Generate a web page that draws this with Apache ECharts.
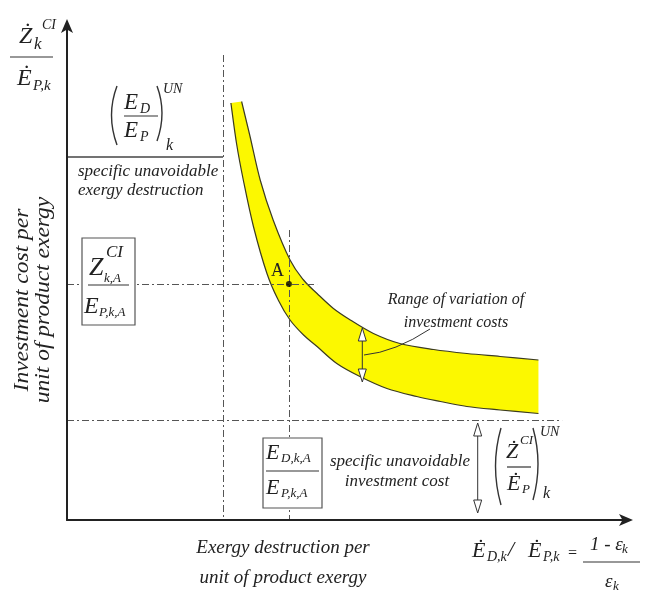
<!DOCTYPE html>
<html><head><meta charset="utf-8">
<script src="https://cdn.jsdelivr.net/npm/echarts@6/dist/echarts.min.js"></script>
<style>html,body{margin:0;padding:0;background:#fff}#c{width:645px;height:595px}</style>
</head><body><div id="c"></div>
<script>
// ---- data (axis units: 0..~100) ----
const upperX = [31.0, 32.5, 34.3, 36.6, 39.6, 42.0, 44.4, 47.3, 50.3, 54.4, 59.1, 65.1, 71.0, 76.9, 83.7];
const upperY = [83.7, 76.7, 68.0, 60.0, 52.0, 48.0, 45.3, 42.3, 40.0, 37.3, 35.3, 34.1, 33.3, 32.7, 32.0];
const lowerX = [29.1, 30.1, 31.3, 33.1, 35.5, 37.5, 39.6, 42.0, 44.4, 47.9, 52.0, 56.8, 62.1, 66.3, 71.0, 76.9, 83.7];
const lowerY = [83.4, 75.3, 68.0, 58.7, 49.3, 44.0, 40.0, 37.0, 34.7, 31.3, 28.7, 26.3, 24.7, 23.7, 22.7, 22.0, 21.3];
const pointA = [39.4, 47.2];
const unavoidableDestructionX = 27.7;
const unavoidableDestructionTop = 93;
const unavoidableDestructionLevel = 72.7;
const unavoidableCostY = 20;
const unavoidableCostEndX = 87.9;
const pointAHLineEnd = 44.4;
const pointAVLineTop = 58;

const chart = echarts.init(document.getElementById('c'), null, {renderer: 'canvas'});
const FONT = '"Liberation Serif", "DejaVu Serif", serif';
const INK = '#222';
const YELLOW = '#fcf800';
const EDGE = '#3b3b20';

function smoothPath(pts) { // Catmull-Rom through the given pixel points
  let d = '';
  for (let i = 0; i < pts.length - 1; i++) {
    const p0 = pts[i - 1] || pts[i], p1 = pts[i], p2 = pts[i + 1], p3 = pts[i + 2] || p2;
    const c1x = p1[0] + (p2[0] - p0[0]) / 6, c1y = p1[1] + (p2[1] - p0[1]) / 6;
    const c2x = p2[0] - (p3[0] - p1[0]) / 6, c2y = p2[1] - (p3[1] - p1[1]) / 6;
    d += ' C ' + c1x + ' ' + c1y + ' ' + c2x + ' ' + c2y + ' ' + p2[0] + ' ' + p2[1];
  }
  return d;
}
function renderBand(params, api) {
  const up = upperX.map((x, i) => api.coord([x, upperY[i]]));
  const lo = lowerX.map((x, i) => api.coord([x, lowerY[i]]));
  const loRev = lo.slice().reverse();
  const fill = 'M ' + up[0][0] + ' ' + up[0][1] + smoothPath(up) +
    ' L ' + loRev[0][0] + ' ' + loRev[0][1] + smoothPath(loRev) + ' Z';
  const upLine = 'M ' + up[0][0] + ' ' + up[0][1] + smoothPath(up);
  const loLine = 'M ' + lo[0][0] + ' ' + lo[0][1] + smoothPath(lo);
  return {type: 'group', children: [
    {type: 'path', shape: {pathData: fill}, style: {fill: YELLOW, stroke: null}},
    {type: 'path', shape: {pathData: upLine}, style: {fill: null, stroke: EDGE, lineWidth: 1.2}},
    {type: 'path', shape: {pathData: loLine}, style: {fill: null, stroke: EDGE, lineWidth: 1.2}}
  ]};
}

function tx(x, y, s, size, extra) {
  const el = {type: 'text', z: 100, x: x, y: y,
    style: {text: s, font: 'italic ' + size + 'px ' + FONT, fill: INK, align: 'left', verticalAlign: 'middle'}};
  if (extra) {
    if (extra.style) Object.assign(el.style, extra.style);
    for (const k in extra) if (k !== 'style') el[k] = extra[k];
  }
  return el;
}
function ln(x1, y1, x2, y2, w, c) {
  return {type: 'line', z: 100, shape: {x1, y1, x2, y2}, style: {stroke: c || '#333', lineWidth: w || 1.2}};
}
function paren(x1, y1, cx, cy, x2, y2) {
  return {type: 'bezierCurve', z: 100, shape: {x1, y1, x2, y2, cpx1: cx, cpy1: cy}, style: {stroke: '#333', lineWidth: 1.4, fill: 'none'}};
}
function head(x, yApex, dir) { // hollow arrowhead, dir 1 = points up, -1 = points down
  const l = 13 * dir;
  return {type: 'polygon', z: 101, shape: {points: [[x, yApex], [x - 4, yApex + l], [x + 4, yApex + l]]},
    style: {fill: '#fff', stroke: '#333', lineWidth: 1}};
}
function box(x, y, w, h) {
  return {type: 'rect', z: 99, shape: {x, y, width: w, height: h}, style: {fill: '#fff', stroke: '#555', lineWidth: 1.2}};
}

const dash = {type: [7, 3, 2, 3], color: '#555', width: 1};
const option = {
  animation: false,
  grid: {left: 67, right: 17, top: 25, bottom: 75},
  xAxis: {type: 'value', min: 0, max: 99.6, z: 10,
    axisLine: {show: true, symbol: ['none', 'arrow'], symbolSize: [9, 14], symbolOffset: [0, 5], lineStyle: {color: INK, width: 2}},
    axisTick: {show: false}, axisLabel: {show: false}, splitLine: {show: false}},
  yAxis: {type: 'value', min: 0, max: 99, z: 10,
    axisLine: {show: true, onZero: false, symbol: ['none', 'arrow'], symbolSize: [9, 14], symbolOffset: [0, 6], lineStyle: {color: INK, width: 2}},
    axisTick: {show: false}, axisLabel: {show: false}, splitLine: {show: false}},
  series: [
    {type: 'custom', name: 'band', coordinateSystem: 'cartesian2d', data: [[50, 50]], renderItem: renderBand, z: 2, silent: true},
    {type: 'scatter', name: 'A', data: [pointA], symbolSize: 6, itemStyle: {color: '#000'}, z: 6,
      markLine: {silent: true, symbol: ['none', 'none'], label: {show: false}, z: 5,
        data: [
          [{coord: [unavoidableDestructionX, unavoidableDestructionTop], lineStyle: dash}, {coord: [unavoidableDestructionX, 0]}],
          [{coord: [0, pointA[1]], lineStyle: dash}, {coord: [pointAHLineEnd, pointA[1]]}],
          [{coord: [pointA[0], pointAVLineTop], lineStyle: dash}, {coord: [pointA[0], 0]}],
          [{coord: [0, unavoidableCostY], lineStyle: dash}, {coord: [unavoidableCostEndX, unavoidableCostY]}],
          [{coord: [0, unavoidableDestructionLevel], lineStyle: {type: 'solid', color: '#444', width: 1.5}}, {coord: [unavoidableDestructionX, unavoidableDestructionLevel]}]
        ]}}
  ],
  graphic: [
    // y-axis end label  Ż_k^CI / Ė_P,k
    tx(19, 37, 'Ż', 24), tx(42, 25, 'CI', 14), tx(34, 45, 'k', 17),
    ln(10, 57, 53, 57, 1.2),
    tx(17, 79, 'Ė', 24), tx(33, 86, 'P,k', 15),
    // (E_D/E_P)_k^UN
    paren(117, 86, 106, 115, 117, 145), paren(157, 86, 167, 113, 157, 141),
    tx(124, 103, 'E', 23), tx(140, 109, 'D', 14),
    ln(124, 116, 158, 116, 1.2),
    tx(124, 131, 'E', 23), tx(140, 137, 'P', 14),
    tx(166, 146, 'k', 16), tx(163, 89, 'UN', 14),
    tx(78, 172, 'specific unavoidable', 17), tx(78, 191, 'exergy destruction', 17),
    // y-axis title
    tx(22, 300, 'Investment cost per', 21, {rotation: Math.PI / 2, scaleX: 1.12, style: {align: 'center'}}),
    tx(43, 300, 'unit of product exergy', 21, {rotation: Math.PI / 2, scaleX: 1.12, style: {align: 'center'}}),
    // box Z_k,A^CI / E_P,k,A
    box(82, 238, 53, 87),
    tx(89, 268, 'Z', 26), tx(106, 253, 'CI', 17), tx(104, 279, 'k,A', 13),
    ln(88, 285, 129, 285, 1.2),
    tx(84, 307, 'E', 24), tx(99, 313, 'P,k,A', 13),
    // point A label
    tx(271, 271, 'A', 18, {style: {font: '18px ' + FONT}}),
    // box E_D,k,A / E_P,k,A
    box(263, 438, 59, 70),
    tx(266, 453, 'E', 22), tx(281, 459, 'D,k,A', 13),
    ln(266, 471, 319, 471, 1.2),
    tx(266, 488, 'E', 22), tx(281, 494, 'P,k,A', 13),
    // specific unavoidable investment cost
    tx(400, 462, 'specific unavoidable', 17, {style: {align: 'center'}}),
    tx(397, 482, 'investment cost', 17, {style: {align: 'center'}}),
    // double arrow (unavoidable investment cost)
    ln(477.7, 430, 477.7, 506, 1),
    head(477.7, 423, 1), head(477.7, 513, -1),
    // (Ż^CI/Ė_P)_k^UN
    paren(501, 428, 490, 466, 501, 505), paren(533, 428, 543, 464, 533, 500),
    tx(506, 452, 'Ż', 22), tx(520, 441, 'CI', 13),
    ln(507, 467, 531, 467, 1.2),
    tx(507, 484, 'Ė', 22), tx(522, 490, 'P', 13),
    tx(543, 494, 'k', 16), tx(540, 432, 'UN', 14),
    // x-axis title
    tx(283, 548, 'Exergy destruction per', 19, {style: {align: 'center'}}),
    tx(283, 578, 'unit of product exergy', 19, {style: {align: 'center'}}),
    // formula
    tx(472, 551, 'Ė', 22), tx(487, 557, 'D,k', 14), tx(508, 550, '/', 22),
    tx(528, 551, 'Ė', 22), tx(543, 557, 'P,k', 14), tx(567, 554, '=', 16),
    tx(590, 545, '1 - ε', 19), tx(622, 550, 'k', 13),
    ln(583, 562, 640, 562, 1.2),
    tx(605, 582, 'ε', 19), tx(613, 587, 'k', 13),
    // range of variation
    tx(456, 300, 'Range of variation of', 16, {style: {align: 'center'}}),
    tx(456, 323, 'investment costs', 16, {style: {align: 'center'}}),
    {type: 'bezierCurve', z: 100, shape: {x1: 364, y1: 355, cpx1: 395, cpy1: 352, x2: 430, y2: 329}, style: {stroke: '#333', lineWidth: 1, fill: 'none'}},
    ln(362.3, 335, 362.3, 375, 1),
    head(362.3, 328, 1), head(362.3, 382, -1)
  ]
};
chart.setOption(option);
</script>
</body></html>
